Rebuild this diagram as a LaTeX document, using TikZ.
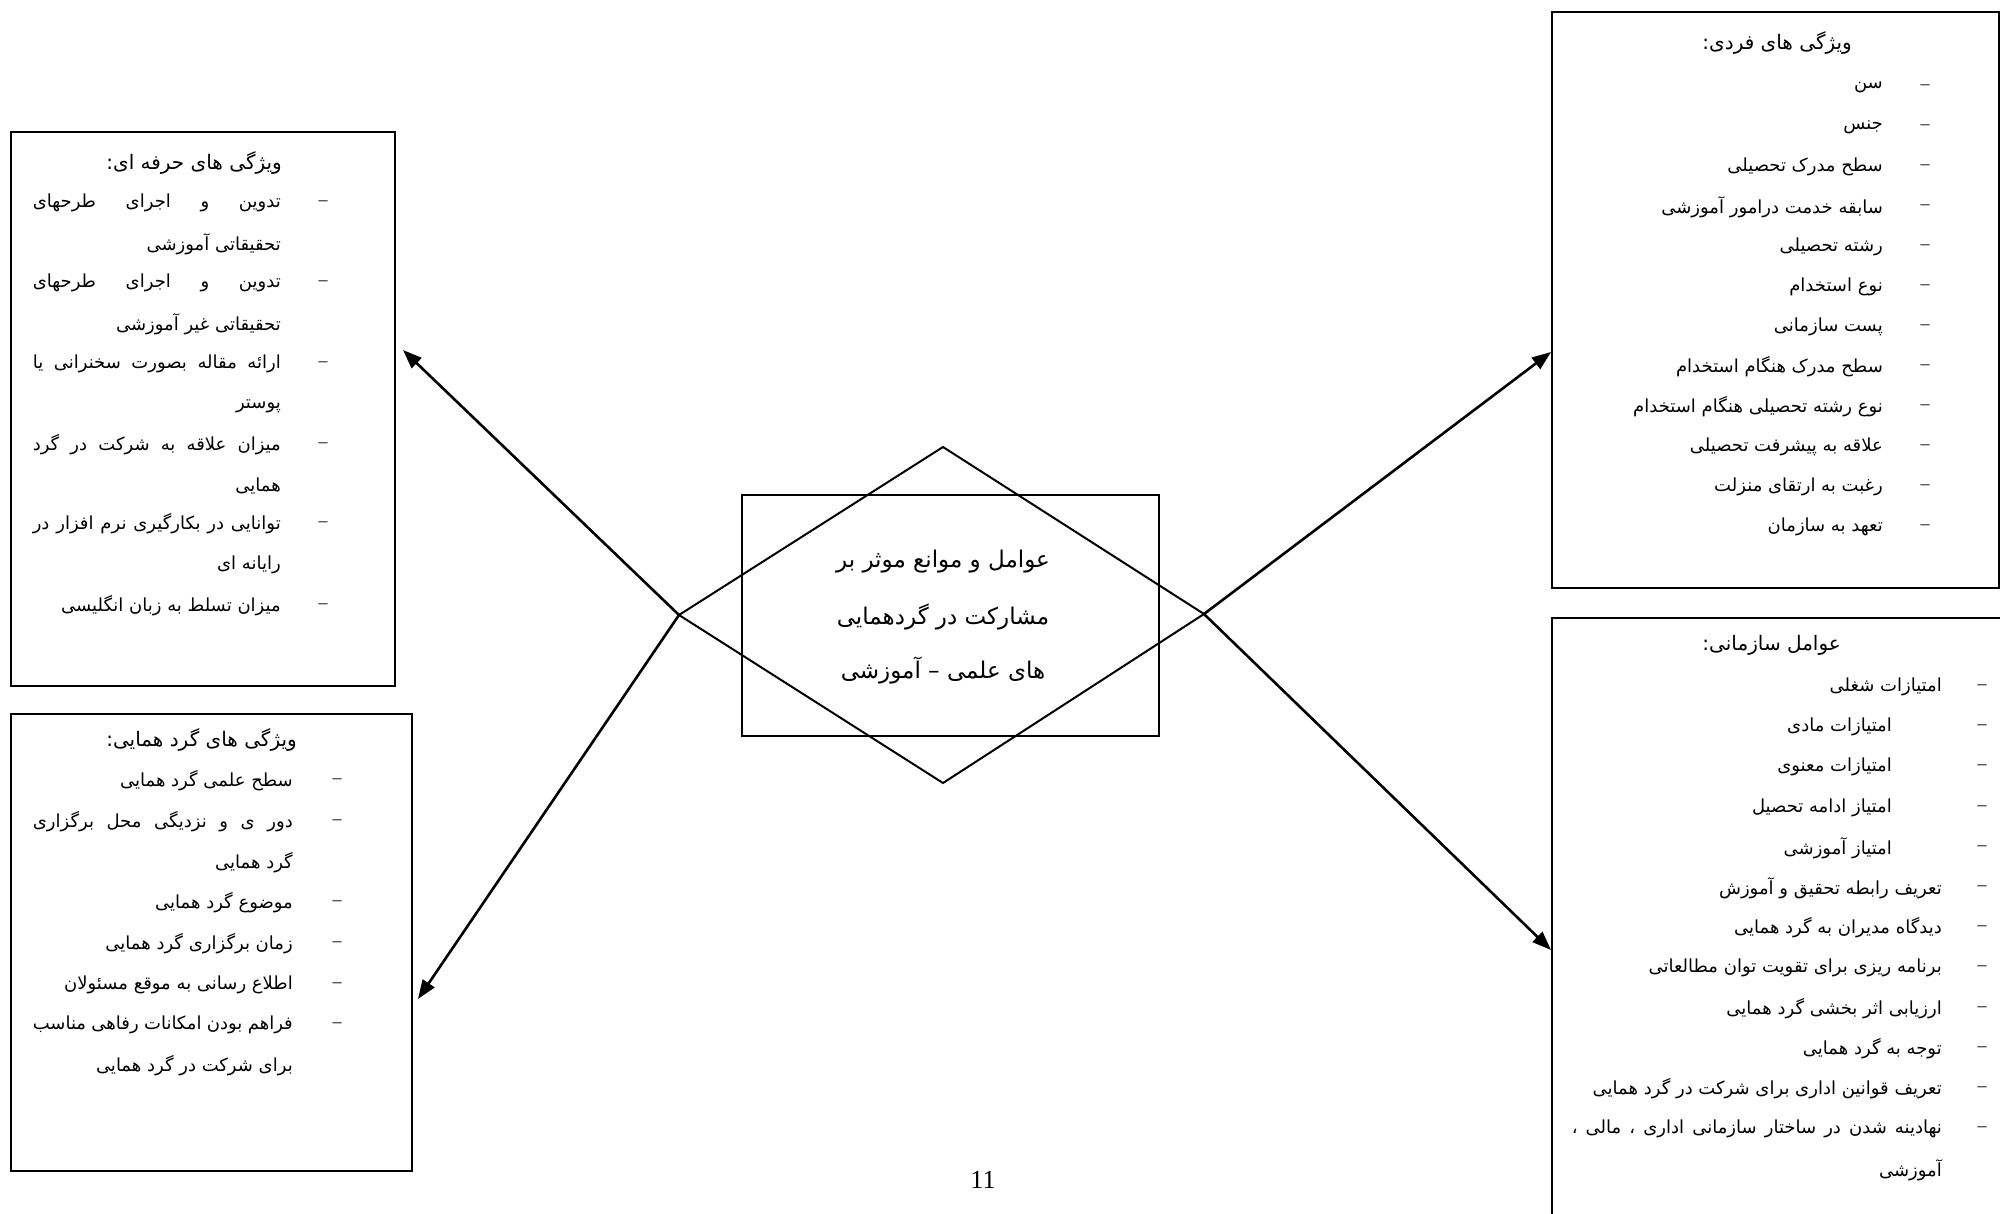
\documentclass[tikz,border=0pt]{standalone}
\usepackage{fontspec}
\setmainfont{Liberation Serif}
\newfontfamily\arabicfont[Script=Arabic]{DejaVu Sans}
\TeXXeTstate=1
\usetikzlibrary{arrows.meta}
\newcommand{\RL}[1]{\beginR#1\endR}
\newcommand{\JL}[2]{\hbox to #1pt{\beginR#2\endR}}
\tikzset{
  box/.style={draw, line width=2.2pt, anchor=north west, inner sep=0pt},
  ln/.style={anchor=east, inner sep=0pt, font=\fontsize{18}{20}\selectfont\arabicfont},
  hd/.style={anchor=east, inner sep=0pt, font=\fontsize{20}{22}\selectfont\arabicfont},
  dsh/.style={anchor=center, inner sep=0pt, font=\fontsize{18}{20}\selectfont},
  ctr/.style={anchor=center, inner sep=0pt, font=\fontsize{23}{25}\selectfont\arabicfont},
  arr/.style={line width=2.6pt, -{Triangle[length=19pt,width=14pt]}},
  shp/.style={line width=2pt}
}
\begin{document}
\begin{tikzpicture}[x=1pt,y=-1pt]
\useasboundingbox (0,0) rectangle (2000,1213);
\fill[white] (0,0) rectangle (2000,1213);

% boxes
\node[box, minimum width=384pt, minimum height=554pt] (b1) at (10,131) {};
\node[box, minimum width=401pt, minimum height=457pt] (b3) at (10,713) {};
\node[box, minimum width=447pt, minimum height=576pt] (b2) at (1551,11) {};
\node[box, minimum width=600pt, minimum height=700pt] (b4) at (1551,617) {};

% central rectangle and diamond
\node[draw, line width=2pt, minimum width=417pt, minimum height=241pt, inner sep=0pt] (cr) at (950.5,615.5) {};
\coordinate (dt) at (943,447);
\coordinate (db) at (943,783);
\coordinate (dl) at (679,615);
\coordinate (dr) at (1204,614);
\draw[shp] (dt) -- (dr) -- (db) -- (dl) -- cycle;
\node[ctr] (c1) at (943,562) {\RL{عوامل و موانع موثر بر}};
\node[ctr] (c2) at (943,617) {\RL{مشارکت در گردهمایی}};
\node[ctr] (c3) at (943,670) {\RL{های علمی – آموزشی}};

% arrows
\coordinate (t1) at (403,350);
\coordinate (t3) at (418,999);
\coordinate (t2) at (1551,352);
\coordinate (t4) at (1551,950);
\draw[arr] (dl) -- (t1);
\draw[arr] (dl) -- (t3);
\draw[arr] (dr) -- (t2);
\draw[arr] (dr) -- (t4);

% box 1: professional
\node[hd] (p0) at (282,163) {\RL{ویژگی های حرفه ای:}};
\foreach \y in {203,283,364,445,524,606} \node[dsh] at (323,\y) {–};
\node[ln] (p1) at (281,203) {\JL{248}{تدوین\hfill و\hfill اجرای\hfill طرحهای}};
\node[ln] (p2) at (281,244) {\RL{تحقیقاتی آموزشی}};
\node[ln] (p3) at (281,283) {\JL{248}{تدوین\hfill و\hfill اجرای\hfill طرحهای}};
\node[ln] (p4) at (281,324) {\RL{تحقیقاتی غیر آموزشی}};
\node[ln] (p5) at (281,364) {\JL{248}{ارائه\hfill مقاله\hfill بصورت\hfill سخنرانی\hfill یا}};
\node[ln] (p6) at (281,406) {\RL{پوستر}};
\node[ln] (p7) at (281,445) {\JL{248}{میزان\hfill علاقه\hfill به\hfill شرکت\hfill در\hfill گرد}};
\node[ln] (p8) at (281,486) {\RL{همایی}};
\node[ln] (p9) at (281,524) {\JL{248}{توانایی\hfill در\hfill بکارگیری\hfill نرم\hfill افزار\hfill در}};
\node[ln] (p10) at (281,565) {\RL{رایانه ای}};
\node[ln] (p11) at (281,606) {\RL{میزان تسلط به زبان انگلیسی}};

% box 3: conference
\node[hd] (g0) at (297,740) {\RL{ویژگی های گرد همایی:}};
\foreach \y in {781,822,903,944,985,1025} \node[dsh] at (337,\y) {–};
\node[ln] (g1) at (293,781) {\RL{سطح علمی گرد همایی}};
\node[ln] (g2) at (293,822) {\JL{260}{دور\hfill ی\hfill و\hfill نزدیگی\hfill محل\hfill برگزاری}};
\node[ln] (g3) at (293,863) {\RL{گرد همایی}};
\node[ln] (g4) at (293,903) {\RL{موضوع گرد همایی}};
\node[ln] (g5) at (293,944) {\RL{زمان برگزاری گرد همایی}};
\node[ln] (g6) at (293,985) {\RL{اطلاع رسانی به موقع مسئولان}};
\node[ln] (g7) at (293,1025) {\JL{260}{فراهم\hfill بودن\hfill امکانات\hfill رفاهی\hfill مناسب}};
\node[ln] (g8) at (293,1066) {\RL{برای شرکت در گرد همایی}};

% box 2: individual
\node[hd] (f0) at (1852,43) {\RL{ویژگی های فردی:}};
\foreach \y in {87,127,167,207,247,287,327,367,407,447,487,527} \node[dsh] at (1925,\y) {–};
\node[ln] (f1) at (1883,87) {\RL{سن}};
\node[ln] (f2) at (1883,127) {\RL{جنس}};
\node[ln] (f3) at (1883,167) {\RL{سطح مدرک تحصیلی}};
\node[ln] (f4) at (1883,207) {\RL{سابقه خدمت درامور آموزشی}};
\node[ln] (f5) at (1883,247) {\RL{رشته تحصیلی}};
\node[ln] (f6) at (1883,287) {\RL{نوع استخدام}};
\node[ln] (f7) at (1883,327) {\RL{پست سازمانی}};
\node[ln] (f8) at (1883,367) {\RL{سطح مدرک هنگام استخدام}};
\node[ln] (f9) at (1883,407) {\RL{نوع رشته تحصیلی هنگام استخدام}};
\node[ln] (f10) at (1883,447) {\RL{علاقه به پیشرفت تحصیلی}};
\node[ln] (f11) at (1883,487) {\RL{رغبت به ارتقای منزلت}};
\node[ln] (f12) at (1883,527) {\RL{تعهد به سازمان}};

% box 4: organisational
\node[hd] (o0) at (1841,645) {\RL{عوامل سازمانی:}};
\foreach \y in {687,727,767,808,848,888,928,968,1009,1049,1089,1129} \node[dsh] at (1982,\y) {–};
\node[ln] (o1) at (1942,687) {\RL{امتیازات شغلی}};
\node[ln] (o2) at (1892,727) {\RL{امتیازات مادی}};
\node[ln] (o3) at (1892,767) {\RL{امتیازات معنوی}};
\node[ln] (o4) at (1892,808) {\RL{امتیاز ادامه تحصیل}};
\node[ln] (o5) at (1892,848) {\RL{امتیاز آموزشی}};
\node[ln] (o6) at (1942,888) {\RL{تعریف رابطه تحقیق و آموزش}};
\node[ln] (o7) at (1942,928) {\RL{دیدگاه مدیران به گرد همایی}};
\node[ln] (o8) at (1942,968) {\RL{برنامه ریزی برای تقویت توان مطالعاتی}};
\node[ln] (o9) at (1942,1009) {\RL{ارزیابی اثر بخشی گرد همایی}};
\node[ln] (o10) at (1942,1049) {\RL{توجه به گرد همایی}};
\node[ln] (o11) at (1942,1089) {\RL{تعریف قوانین اداری برای شرکت در گرد همایی}};
\node[ln] (o12) at (1942,1129) {\JL{370}{نهادینه\hfill شدن\hfill در\hfill ساختار\hfill سازمانی\hfill اداری\hfill ،\hfill مالی\hfill ،}};
\node[ln] (o13) at (1942,1170) {\RL{آموزشی}};

% page number
\node[anchor=center, inner sep=0pt, font=\fontsize{26}{28}\selectfont] (pg) at (983,1180) {11};
\end{tikzpicture}
\end{document}
